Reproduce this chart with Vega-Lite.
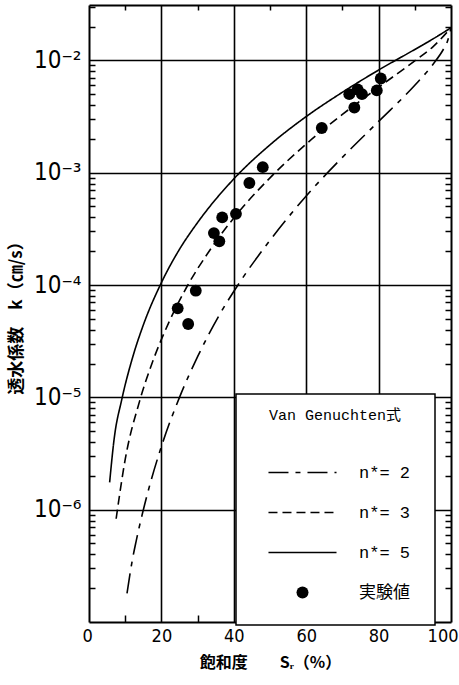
{
  "$schema": "https://vega.github.io/schema/vega-lite/v6.json",
  "width": 362,
  "height": 617,
  "autosize": {"type": "none"},
  "padding": {"left": 89, "top": 5, "right": 8, "bottom": 63},
  "background": "white",
  "config": {
    "view": {"stroke": null},
    "axis": {
      "domainColor": "black", "domainWidth": 2,
      "tickColor": "black", "tickWidth": 1.5,
      "gridColor": "black", "gridWidth": 1.6,
      "labelColor": "black", "titleColor": "black"
    }
  },
  "datasets": {
    "curves": [
      {"series": "n*= 2", "Sr": 10.5, "k": 1.8e-7},
      {"series": "n*= 2", "Sr": 12, "k": 3.6e-7},
      {"series": "n*= 2", "Sr": 13, "k": 5.2e-7},
      {"series": "n*= 2", "Sr": 16, "k": 1.33e-6},
      {"series": "n*= 2", "Sr": 20, "k": 3.65e-6},
      {"series": "n*= 2", "Sr": 25, "k": 1.0e-5},
      {"series": "n*= 2", "Sr": 30, "k": 2.3e-5},
      {"series": "n*= 2", "Sr": 36, "k": 5.4e-5},
      {"series": "n*= 2", "Sr": 42, "k": 1.1e-4},
      {"series": "n*= 2", "Sr": 50, "k": 2.5e-4},
      {"series": "n*= 2", "Sr": 60, "k": 6.2e-4},
      {"series": "n*= 2", "Sr": 70, "k": 1.37e-3},
      {"series": "n*= 2", "Sr": 80, "k": 2.86e-3},
      {"series": "n*= 2", "Sr": 90, "k": 6.0e-3},
      {"series": "n*= 2", "Sr": 95, "k": 9.2e-3},
      {"series": "n*= 2", "Sr": 98, "k": 1.27e-2},
      {"series": "n*= 2", "Sr": 99, "k": 1.47e-2},
      {"series": "n*= 2", "Sr": 100, "k": 1.95e-2},
      {"series": "n*= 3", "Sr": 7.5, "k": 8.3e-7},
      {"series": "n*= 3", "Sr": 10, "k": 2.8e-6},
      {"series": "n*= 3", "Sr": 14, "k": 9.3e-6},
      {"series": "n*= 3", "Sr": 18, "k": 2.26e-5},
      {"series": "n*= 3", "Sr": 22, "k": 4.6e-5},
      {"series": "n*= 3", "Sr": 27, "k": 9.6e-5},
      {"series": "n*= 3", "Sr": 33, "k": 1.96e-4},
      {"series": "n*= 3", "Sr": 40, "k": 3.95e-4},
      {"series": "n*= 3", "Sr": 50, "k": 9.0e-4},
      {"series": "n*= 3", "Sr": 60, "k": 1.8e-3},
      {"series": "n*= 3", "Sr": 70, "k": 3.3e-3},
      {"series": "n*= 3", "Sr": 80, "k": 5.76e-3},
      {"series": "n*= 3", "Sr": 90, "k": 9.9e-3},
      {"series": "n*= 3", "Sr": 95, "k": 1.32e-2},
      {"series": "n*= 3", "Sr": 100, "k": 1.95e-2},
      {"series": "n*= 5", "Sr": 5.7, "k": 1.75e-6},
      {"series": "n*= 5", "Sr": 7, "k": 4.4e-6},
      {"series": "n*= 5", "Sr": 9, "k": 9.4e-6},
      {"series": "n*= 5", "Sr": 12, "k": 2.24e-5},
      {"series": "n*= 5", "Sr": 15, "k": 4.4e-5},
      {"series": "n*= 5", "Sr": 20, "k": 1.05e-4},
      {"series": "n*= 5", "Sr": 25, "k": 2.08e-4},
      {"series": "n*= 5", "Sr": 30, "k": 3.6e-4},
      {"series": "n*= 5", "Sr": 40, "k": 8.8e-4},
      {"series": "n*= 5", "Sr": 50, "k": 1.77e-3},
      {"series": "n*= 5", "Sr": 60, "k": 3.16e-3},
      {"series": "n*= 5", "Sr": 70, "k": 5.2e-3},
      {"series": "n*= 5", "Sr": 80, "k": 8.2e-3},
      {"series": "n*= 5", "Sr": 90, "k": 1.25e-2},
      {"series": "n*= 5", "Sr": 95, "k": 1.55e-2},
      {"series": "n*= 5", "Sr": 100, "k": 1.95e-2}
    ],
    "obs": [
      {"series": "実験値", "Sr": 24.5, "k": 6.2e-5},
      {"series": "実験値", "Sr": 27.4, "k": 4.5e-5},
      {"series": "実験値", "Sr": 29.5, "k": 8.9e-5},
      {"series": "実験値", "Sr": 34.5, "k": 2.9e-4},
      {"series": "実験値", "Sr": 36.0, "k": 2.45e-4},
      {"series": "実験値", "Sr": 36.8, "k": 4.0e-4},
      {"series": "実験値", "Sr": 40.6, "k": 4.3e-4},
      {"series": "実験値", "Sr": 44.3, "k": 8.1e-4},
      {"series": "実験値", "Sr": 48.0, "k": 1.12e-3},
      {"series": "実験値", "Sr": 64.3, "k": 2.5e-3},
      {"series": "実験値", "Sr": 71.9, "k": 5.0e-3},
      {"series": "実験値", "Sr": 74.2, "k": 5.5e-3},
      {"series": "実験値", "Sr": 75.4, "k": 5.0e-3},
      {"series": "実験値", "Sr": 73.3, "k": 3.8e-3},
      {"series": "実験値", "Sr": 79.5, "k": 5.4e-3},
      {"series": "実験値", "Sr": 80.6, "k": 6.9e-3}
    ]
  },
  "layer": [
    {
      "data": {"name": "curves"},
      "mark": {"type": "line", "color": "black", "strokeWidth": 1.6, "interpolate": "monotone"},
      "encoding": {
        "x": {
          "field": "Sr", "type": "quantitative",
          "scale": {"domain": [0, 100], "nice": false, "zero": false},
          "axis": {
            "orient": "bottom",
            "values": [0, 10, 20, 30, 40, 50, 60, 70, 80, 90, 100],
            "labelExpr": "datum.value % 20 === 0 ? datum.label : ''",
            "labelFont": "Liberation Sans Narrow, DejaVu Sans Condensed, sans-serif",
            "labelFontSize": 18,
            "labelPadding": 12,
            "labelOverlap": false,
            "labelFlush": true,
            "labelFlushOffset": 7,
            "tickSize": -7,
            "tickOpacity": {"condition": {"test": "datum.value % 20 === 0", "value": 0}, "value": 1},
            "grid": true,
            "gridOpacity": {"condition": {"test": "datum.value % 20 === 0 && datum.value % 100 !== 0", "value": 1}, "value": 0},
            "title": "飽和度　　Sᵣ（%）",
            "titleFont": "Noto Sans CJK JP",
            "titleFontSize": 16,
            "titleFontWeight": "bold",
            "titlePadding": 9
          }
        },
        "y": {
          "field": "k", "type": "quantitative",
          "scale": {"type": "log", "domain": [1e-7, 0.0311], "nice": false},
          "axis": {
            "orient": "left",
            "values": [1e-7, 2e-7, 3e-7, 4e-7, 5e-7, 6e-7, 7e-7, 8e-7, 9e-7,
                       1e-6, 2e-6, 3e-6, 4e-6, 5e-6, 6e-6, 7e-6, 8e-6, 9e-6,
                       1e-5, 2e-5, 3e-5, 4e-5, 5e-5, 6e-5, 7e-5, 8e-5, 9e-5,
                       1e-4, 2e-4, 3e-4, 4e-4, 5e-4, 6e-4, 7e-4, 8e-4, 9e-4,
                       1e-3, 2e-3, 3e-3, 4e-3, 5e-3, 6e-3, 7e-3, 8e-3, 9e-3,
                       1e-2, 2e-2, 3e-2],
            "labelExpr": "datum.value === 1e-2 ? '10⁻²' : datum.value === 1e-3 ? '10⁻³' : datum.value === 1e-4 ? '10⁻⁴' : datum.value === 1e-5 ? '10⁻⁵' : datum.value === 1e-6 ? '10⁻⁶' : ''",
            "labelFont": "Liberation Sans Narrow, DejaVu Sans Condensed, sans-serif",
            "labelFontSize": 24,
            "labelPadding": 14,
            "labelOverlap": false,
            "labelBaseline": "middle",
            "tickSize": -6,
            "tickOpacity": {"condition": {"test": "indexof([1e-7,1e-6,1e-5,1e-4,1e-3,1e-2], datum.value) >= 0", "value": 0}, "value": 1},
            "grid": true,
            "gridOpacity": {"condition": {"test": "indexof([1e-6,1e-5,1e-4,1e-3,1e-2], datum.value) >= 0", "value": 1}, "value": 0},
            "title": "透水係数　k（㎝/s）",
            "titleFont": "Noto Sans CJK JP",
            "titleFontSize": 17,
            "titleFontWeight": "bold",
            "titlePadding": 8
          }
        },
        "strokeDash": {
          "field": "series", "type": "nominal",
          "scale": {
            "domain": ["n*= 2", "n*= 3", "n*= 5", "実験値"],
            "range": [[20, 7, 5, 7], [9, 5], [1, 0], [1, 0]]
          },
          "legend": {
            "orient": "none",
            "legendX": 147,
            "legendY": 389,
            "title": "Van Genuchten式",
            "titleFont": "Liberation Mono, Noto Sans CJK JP, monospace",
            "titleFontSize": 15,
            "titleFontWeight": "normal",
            "titleColor": "black",
            "titleAnchor": "middle",
            "titlePadding": 31,
            "labelFont": "Liberation Mono, Noto Sans CJK JP, monospace",
            "labelFontSize": 17,
            "labelColor": "black",
            "labelOffset": 48,
            "labelExpr": "datum.label + ' \u2002'",
            "symbolSize": 144,
            "symbolOffset": 34,
            "symbolStrokeWidth": 1.6,
            "symbolStrokeColor": "black",
            "padding": 24,
            "rowPadding": 22,
            "fillColor": "white",
            "strokeColor": "black",
            "zindex": 1,
            "encode": {
              "title": {"update": {"dy": {"value": -10}}},
              "legend": {"update": {"strokeWidth": {"value": 1.5}}},
              "symbols": {
                "update": {
                  "shape": {"signal": "datum.value === '実験値' ? 'circle' : 'M-5.67,0H5.67'"},
                  "fill": {"signal": "datum.value === '実験値' ? 'black' : 'transparent'"},
                  "stroke": {"value": "black"},
                  "strokeWidth": {"signal": "datum.value === '実験値' ? 0 : 1.6"},
                  "opacity": {"value": 1}
                }
              }
            }
          }
        }
      }
    },
    {
      "data": {"name": "obs"},
      "mark": {"type": "point", "filled": true, "color": "black", "size": 140, "opacity": 1},
      "encoding": {
        "x": {
          "field": "Sr", "type": "quantitative",
          "axis": {
            "orient": "top",
            "values": [10, 30, 50, 70, 90],
            "labels": false,
            "grid": false,
            "tickSize": -5,
            "title": null
          }
        },
        "y": {
          "field": "k", "type": "quantitative",
          "axis": {
            "orient": "right",
            "values": [2e-7, 3e-7, 4e-7, 5e-7, 6e-7, 7e-7, 8e-7, 9e-7,
                       2e-6, 3e-6, 4e-6, 5e-6, 6e-6, 7e-6, 8e-6, 9e-6,
                       2e-5, 3e-5, 4e-5, 5e-5, 6e-5, 7e-5, 8e-5, 9e-5,
                       2e-4, 3e-4, 4e-4, 5e-4, 6e-4, 7e-4, 8e-4, 9e-4,
                       2e-3, 3e-3, 4e-3, 5e-3, 6e-3, 7e-3, 8e-3, 9e-3,
                       2e-2, 3e-2],
            "labels": false,
            "grid": false,
            "tickSize": -6,
            "title": null,
            "zindex": 2
          }
        },
        "strokeDash": {"field": "series", "type": "nominal"}
      }
    }
  ],
  "resolve": {"axis": {"x": "independent", "y": "independent"}}
}
